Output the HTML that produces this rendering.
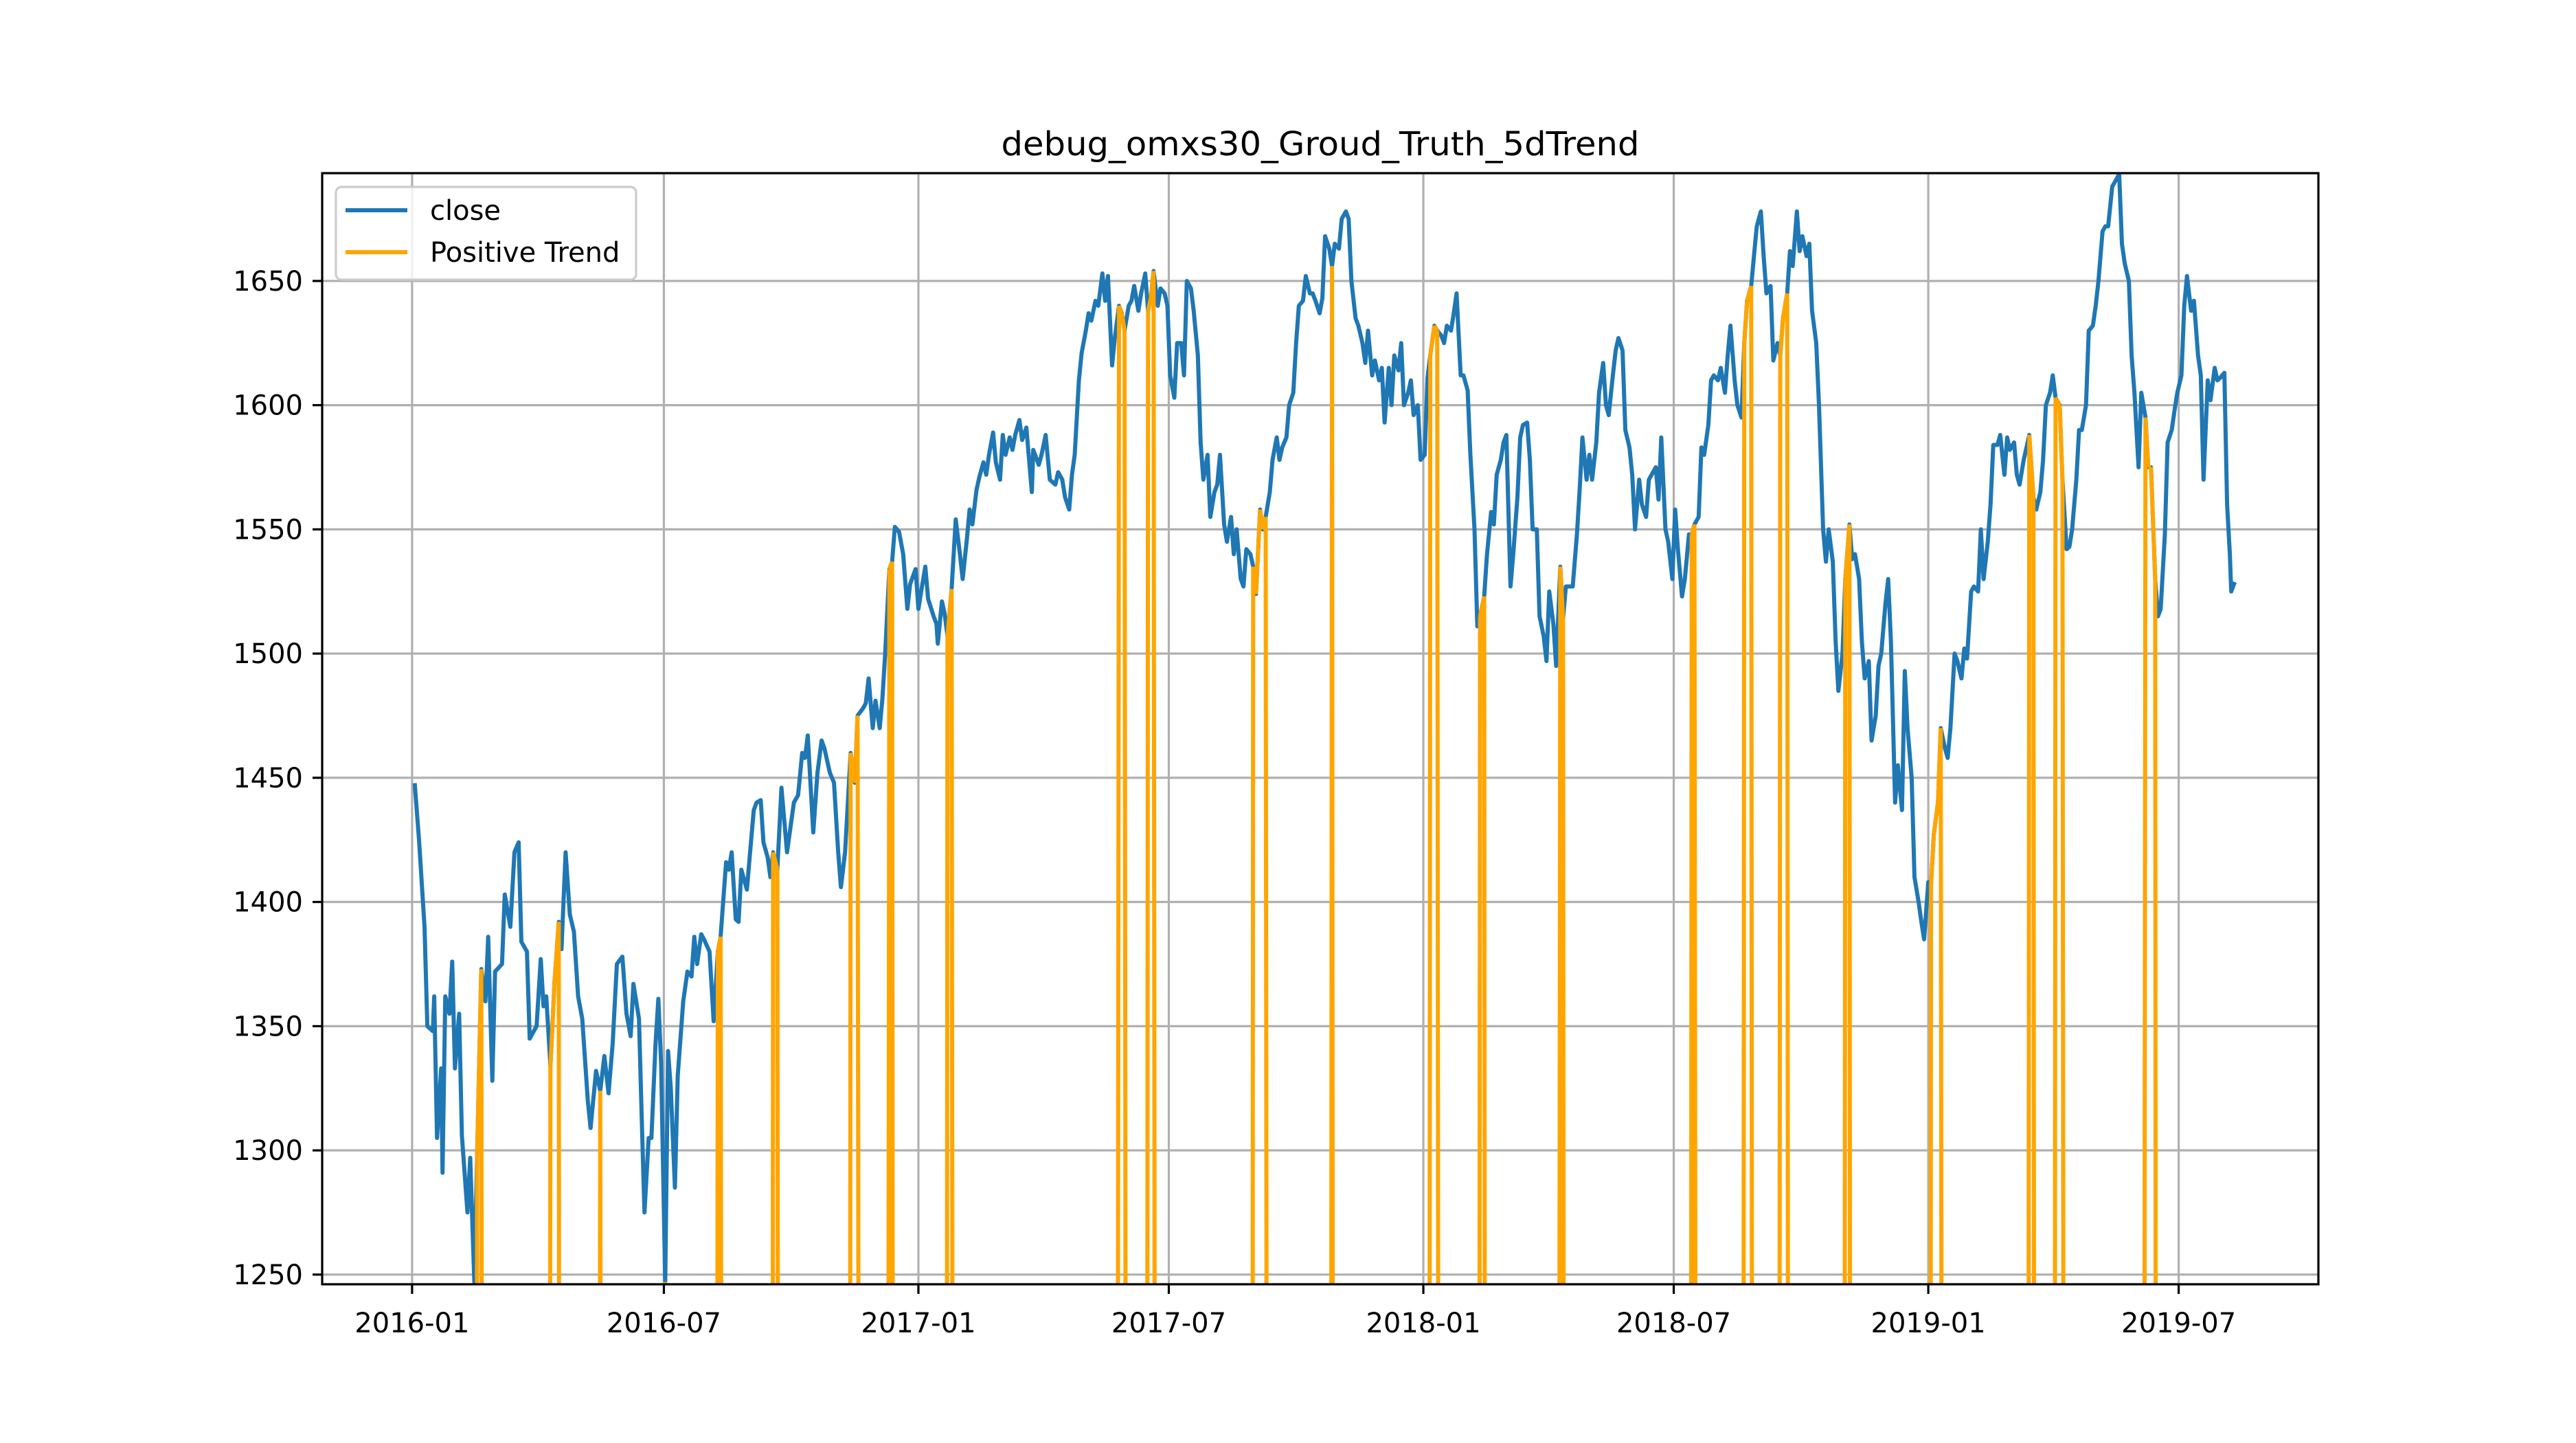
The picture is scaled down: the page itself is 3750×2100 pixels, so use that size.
<!DOCTYPE html>
<html><head><meta charset="utf-8"><style>
html,body{margin:0;padding:0;background:#fff;width:3750px;height:2100px;overflow:hidden;position:relative;}
svg{position:absolute;left:0;top:0;display:block;font-family:"DejaVu Sans","Liberation Sans",sans-serif;}
</style></head><body>
<svg id="chart" width="3750" height="2100" viewBox="0 0 3750 2100" xmlns="http://www.w3.org/2000/svg">
<rect x="0" y="0" width="3750" height="2100" fill="#fff"/>
<text x="1922" y="226" font-size="48" text-anchor="middle" textLength="929" lengthAdjust="spacingAndGlyphs">debug_omxs30_Groud_Truth_5dTrend</text>
<defs><clipPath id="plotclip"><rect x="469" y="252" width="2906" height="1617"/></clipPath></defs>
<g id="grid"></g>
<g id="series" clip-path="url(#plotclip)"></g>
<rect x="469" y="252" width="2906" height="1617" fill="none" stroke="#000" stroke-width="3.2"/>
<g id="ticks"></g>
<g>
<rect x="489" y="272" width="437" height="135" rx="8" fill="#fff" fill-opacity="0.8" stroke="#cccccc" stroke-width="3.2"/>
<g>
<line x1="503" y1="306" x2="593" y2="306" stroke="#1f77b4" stroke-width="6"/>
<text x="626" y="320" font-size="40">close</text></g>
<g>
<line x1="503" y1="367" x2="593" y2="367" stroke="#ffa500" stroke-width="6"/>
<text x="626" y="381" font-size="40">Positive Trend</text></g>
</g>
</svg>
<script>
// days since 2016-01-01
const days = [2,5,9,11,15,16,18,21,22,24,27,29,31,34,36,40,42,45,47,50,53,55,58,60,65,67,71,74,77,79,83,85,90,93,95,97,100,103,106,108,111,114,117,120,123,127,129,133,136,139,142,145,148,152,155,158,160,164,166,168,171,173,176,178,180,183,185,187,190,192,196,199,202,204,206,209,211,215,218,221,223,227,229,231,234,236,238,242,244,247,249,252,254,257,259,261,264,267,271,273,276,279,282,284,286,290,293,296,298,302,305,308,310,313,315,317,320,322,326,328,330,333,335,338,340,342,345,347,349,352,355,358,360,364,366,368,371,373,377,379,380,383,385,387,390,393,396,398,401,403,405,408,410,413,415,417,420,422,425,427,429,432,434,436,439,441,444,446,448,449,453,455,458,461,465,467,470,472,475,477,479,482,484,487,489,491,494,496,499,501,503,506,508,511,513,515,518,520,522,525,527,530,532,534,536,539,541,544,546,548,551,553,556,558,560,563,565,568,570,572,575,577,580,582,584,587,589,592,594,596,599,601,603,606,608,610,613,615,617,620,622,625,627,629,632,634,637,639,641,644,646,649,651,653,656,658,660,663,665,667,670,672,675,677,679,682,684,687,689,691,694,696,699,701,703,706,708,710,713,715,717,720,722,724,727,729,732,734,736,739,741,744,746,748,751,753,755,758,760,763,765,768,770,772,775,777,780,782,784,787,789,791,794,796,799,801,803,806,808,810,813,815,818,820,822,825,827,830,832,834,837,839,842,844,846,849,851,853,856,858,861,863,865,868,870,872,875,877,880,882,884,887,889,892,894,896,899,901,903,906,908,911,913,915,918,920,923,925,927,930,932,934,937,939,941,944,946,949,951,953,956,958,961,963,965,968,970,972,975,977,979,982,984,987,989,991,994,996,998,1001,1003,1005,1008,1010,1012,1015,1017,1020,1022,1024,1027,1029,1031,1034,1036,1039,1041,1043,1046,1048,1050,1053,1055,1058,1060,1062,1065,1067,1069,1072,1074,1077,1079,1081,1084,1086,1089,1091,1093,1096,1098,1100,1103,1105,1108,1110,1112,1115,1117,1120,1122,1124,1127,1129,1132,1134,1136,1139,1141,1143,1146,1148,1151,1153,1155,1158,1160,1162,1165,1167,1169,1172,1174,1177,1179,1181,1184,1186,1188,1191,1193,1196,1198,1200,1203,1205,1207,1210,1212,1215,1217,1219,1222,1224,1226,1229,1231,1234,1236,1238,1241,1243,1245,1248,1250,1253,1255,1257,1260,1262,1264,1267,1269,1272,1274,1276,1279,1281,1283,1286,1288,1291,1293,1295,1298,1300,1303,1305,1307,1310,1312,1314,1315,1317];
const closeValues = [1447,1425,1390,1350,1348,1362,1305,1333,1291,1362,1355,1376,1333,1355,1306,1275,1297,1247,1298,1373,1360,1386,1328,1372,1375,1403,1390,1420,1424,1384,1380,1345,1350,1377,1358,1362,1334,1368,1392,1381,1420,1395,1388,1362,1353,1320,1309,1332,1324,1338,1323,1343,1375,1378,1355,1346,1367,1353,1313,1275,1305,1305,1343,1361,1335,1247,1340,1325,1285,1330,1360,1372,1370,1386,1375,1387,1385,1380,1352,1380,1386,1416,1413,1420,1393,1392,1413,1405,1418,1437,1440,1441,1424,1418,1410,1420,1413,1446,1420,1428,1440,1443,1460,1458,1467,1428,1452,1465,1462,1452,1448,1420,1406,1420,1440,1460,1448,1475,1478,1480,1490,1470,1481,1470,1482,1500,1534,1537,1551,1549,1540,1518,1528,1534,1518,1525,1535,1522,1515,1512,1504,1521,1516,1507,1526,1554,1540,1530,1546,1558,1552,1566,1571,1577,1572,1580,1589,1577,1570,1588,1580,1587,1582,1588,1594,1586,1591,1578,1565,1582,1576,1580,1588,1570,1568,1573,1570,1563,1558,1572,1580,1610,1621,1630,1637,1634,1642,1640,1653,1642,1652,1616,1627,1640,1637,1630,1640,1642,1648,1638,1645,1653,1638,1643,1654,1640,1647,1645,1640,1612,1603,1625,1625,1612,1650,1647,1638,1620,1585,1570,1580,1555,1565,1568,1580,1552,1545,1555,1540,1550,1530,1527,1542,1540,1535,1524,1558,1550,1555,1565,1578,1587,1578,1583,1587,1600,1605,1625,1640,1642,1652,1645,1645,1642,1637,1643,1668,1663,1656,1665,1663,1675,1678,1675,1650,1635,1632,1625,1617,1630,1612,1618,1610,1615,1593,1615,1600,1620,1614,1625,1600,1605,1610,1596,1600,1578,1580,1611,1620,1632,1630,1628,1625,1632,1630,1637,1645,1612,1612,1606,1580,1550,1511,1515,1523,1540,1557,1552,1572,1578,1585,1588,1527,1540,1563,1587,1592,1593,1578,1550,1550,1515,1507,1497,1525,1512,1495,1535,1514,1527,1527,1527,1548,1566,1587,1570,1580,1570,1585,1605,1617,1600,1596,1612,1622,1627,1622,1590,1583,1572,1550,1570,1560,1555,1570,1572,1575,1562,1587,1550,1545,1530,1558,1542,1523,1530,1548,1548,1552,1555,1583,1580,1592,1610,1612,1610,1615,1605,1620,1632,1610,1600,1595,1625,1642,1648,1660,1672,1678,1660,1645,1648,1618,1625,1620,1635,1645,1662,1656,1678,1662,1668,1660,1665,1638,1625,1600,1550,1537,1550,1537,1505,1485,1500,1530,1552,1538,1540,1530,1505,1490,1497,1465,1475,1495,1500,1520,1530,1505,1440,1455,1437,1493,1470,1450,1410,1400,1392,1385,1408,1407,1427,1440,1470,1462,1458,1470,1500,1497,1490,1502,1498,1525,1527,1525,1550,1530,1545,1560,1584,1584,1588,1572,1587,1582,1585,1572,1568,1578,1583,1588,1563,1558,1565,1578,1600,1605,1612,1603,1600,1570,1542,1543,1550,1570,1590,1590,1600,1630,1632,1640,1650,1670,1672,1672,1688,1690,1693,1665,1657,1650,1620,1605,1575,1605,1595,1575,1575,1530,1515,1518,1548,1585,1590,1598,1605,1612,1640,1652,1638,1642,1620,1612,1570,1610,1602,1615,1610,1611,1613,1560,1540,1525,1528];
// positive-trend intervals [startDay, endDay]
const trendStarts = [47,100,135,183,221,261,317,343,387,511,532,608,665,735,771,828,925,962,989,1035,1098,1168,1188,1251];
const trendEnds   = [50,106,138,184,225,265,322,347,392,515,536,617,666,741,775,833,928,968,994,1039,1105,1172,1193,1260];
const yTicks = [1250,1300,1350,1400,1450,1500,1550,1600,1650];
const xTickLabels = ["2016-01","2016-07","2017-01","2017-07","2018-01","2018-07","2019-01","2019-07"];
const xTickDays = [0,182,366,547,731,912,1096,1277];

const NS = "http://www.w3.org/2000/svg";
const L=469,R=3375,T=252,B=1869;
const X0=-65,X1=1378,Y0=1246.1,Y1=1693.4;
function xs(d){return L+(d-X0)/(X1-X0)*(R-L);}
function ys(v){return B-(v-Y0)/(Y1-Y0)*(B-T);}
function mk(tag,attrs,parent){const e=document.createElementNS(NS,tag);for(const k in attrs)e.setAttribute(k,attrs[k]);parent.appendChild(e);return e;}
const grid=document.getElementById('grid'),ticks=document.getElementById('ticks'),series=document.getElementById('series');
yTicks.forEach(v=>{
  const y=ys(v);
  const g=mk('line',{x1:L,x2:R,y1:y,y2:y,stroke:'#b0b0b0','stroke-width':3.2},grid);
  
  
  const t=mk('line',{x1:L-14,x2:L,y1:y,y2:y,stroke:'#000','stroke-width':3.2},ticks);
  
  
  const tx=mk('text',{x:L-28,y:y+14,'font-size':40,'text-anchor':'end'},ticks);
  tx.textContent=v;
  
  
});
xTickDays.forEach((d,i)=>{
  const x=xs(d);
  const g=mk('line',{x1:x,x2:x,y1:T,y2:B,stroke:'#b0b0b0','stroke-width':3.2},grid);
  
  
  const t=mk('line',{x1:x,x2:x,y1:B,y2:B+14,stroke:'#000','stroke-width':3.2},ticks);
  
  
  const tx=mk('text',{x:x,y:B+70,'font-size':40,'text-anchor':'middle'},ticks);
  tx.textContent=xTickLabels[i];
  
  
});
function inTrend(d){for(let i=0;i<trendStarts.length;i++){if(d>=trendStarts[i]&&d<=trendEnds[i])return true;}return false;}
let pc='';
days.forEach((d,i)=>{
  pc+=(i?'L':'M')+xs(d).toFixed(1)+','+ys(closeValues[i]).toFixed(1);
});
// orange: close when positive trend else 0; clip segments at floor just below axes
const FLOOR=B+20;
const pts=days.map((d,i)=>[xs(d), ys(inTrend(d)?closeValues[i]:0)]);
let po='';
for(let i=0;i<pts.length-1;i++){
  let [xa,ya]=pts[i],[xb,yb]=pts[i+1];
  if(ya>FLOOR&&yb>FLOOR)continue;
  if(ya>FLOOR){xa=xa+(xb-xa)*(ya-FLOOR)/(ya-yb);ya=FLOOR;}
  if(yb>FLOOR){xb=xa+(xb-xa)*(FLOOR-ya)/(yb-ya);yb=FLOOR;}
  po+='M'+xa.toFixed(1)+','+ya.toFixed(1)+'L'+xb.toFixed(1)+','+yb.toFixed(1);
}
const closeLine=mk('path',{d:pc,fill:'none',stroke:'#1f77b4','stroke-width':6,'stroke-linejoin':'round','stroke-linecap':'square'},series);


const trendLine=mk('path',{d:po,fill:'none',stroke:'#ffa500','stroke-width':6,'stroke-linejoin':'round'},series);


</script>
</body></html>
